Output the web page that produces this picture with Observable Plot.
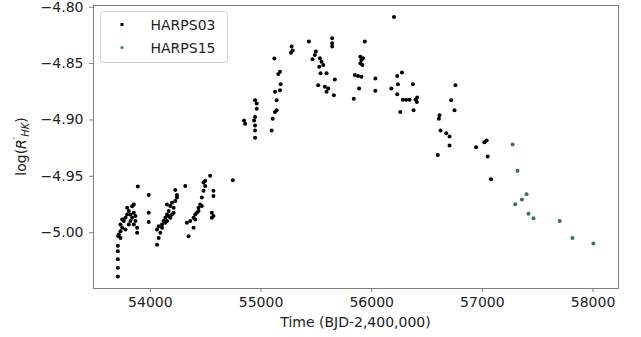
<!DOCTYPE html>
<html>
<head>
<meta charset="utf-8">
<script src="https://cdn.jsdelivr.net/npm/d3@7"></script>
<script src="https://cdn.jsdelivr.net/npm/@observablehq/plot@0.6"></script>
<style>
html,body{margin:0;padding:0;background:#fff;overflow:hidden;}
#chart{width:641px;height:337px;}
</style>
</head>
<body>
<div id="chart"></div>
<script>
// HARPS03 observations: time (BJD-2,400,000) and log(R'HK)
const t03 = [
  53706,53706,53706,53706,53706,
  53709,53730,53715,53730,53745,53730,53760,53745,53775,53790,53805,53790,53820,53835,53850,53865,53850,53880,53880,53805,53775,53820,53865,53850,53835,
  53886,53985,53985,53985,
  54060,54075,54090,54060,54075,54105,54120,54135,54150,54165,54150,54180,54195,54210,54225,54240,54240,54225,54195,54180,54150,54105,54135,54210,54165,
  54315,
  54345,54330,54360,54390,54405,54420,54405,54390,54435,54450,54465,54480,54495,54480,54495,54540,54570,54570,54555,54570,54555,54435,54465,
  54745,
  54847,54856,54946,54961,54961,54946,54937,54946,54946,54946,
  55096,55105,55126,55141,55141,55126,55171,55177,55156,55171,55120,
  55276,55285,55270,55432,
  55495,55486,55465,55532,55547,55526,55562,55538,55592,55516,55577,55607,55592,55658,
  55643,55643,55643,55667,
  55937,55898,55907,55922,55898,55916,55847,55877,55907,55886,55838,56033,56033,
  56201,56231,56273,56237,56177,56231,56282,56312,56342,56396,56411,56372,56258,56378,56408,
  56757,56718,56748,56613,56607,56622,56673,56703,56703,56597,
  56943,57018,57039,57048,57078
];
const v03 = [
  -5.0388,-5.0311,-5.0235,-5.0165,-5.0116,
  -5.0030,-5.0046,-5.0016,-4.9987,-4.9957,-4.9927,-4.9897,-4.9882,-4.9868,-4.9838,-4.9808,-4.9778,-4.9838,-4.9868,-4.9823,-4.9897,-4.9927,-5.0001,-4.9957,-4.9927,-4.9972,-4.9897,-4.9853,-4.9750,-4.9765,
  -4.9591,-4.9665,-4.9823,-4.9906,
  -5.0106,-5.0046,-5.0001,-4.9972,-4.9942,-4.9927,-4.9897,-4.9868,-4.9838,-4.9808,-4.9749,-4.9763,-4.9734,-4.9778,-4.9719,-4.9689,-4.9665,-4.9621,-4.9838,-4.9868,-4.9897,-4.9957,-4.9912,-4.9823,-4.9853,
  -4.9585,
  -5.0031,-4.9912,-4.9897,-4.9868,-4.9838,-4.9823,-4.9882,-4.9957,-4.9778,-4.9749,-4.9689,-4.9629,-4.9585,-4.9555,-4.9540,-4.9496,-4.9629,-4.9674,-4.9823,-4.9853,-4.9868,-4.9808,-4.9763,
  -4.9534,
  -4.9004,-4.9034,-4.8826,-4.8855,-4.8900,-4.8974,-4.9004,-4.9049,-4.9093,-4.9159,
  -4.9093,-4.8989,-4.8930,-4.8915,-4.8826,-4.8751,-4.8736,-4.8683,-4.8593,-4.8573,-4.8454,
  -4.8349,-4.8385,-4.8403,-4.8305,
  -4.8394,-4.8424,-4.8462,-4.8453,-4.8483,-4.8528,-4.8513,-4.8587,-4.8587,-4.8692,-4.8706,-4.8721,-4.8751,-4.8781,
  -4.8275,-4.8320,-4.8349,-4.8641,
  -4.8305,-4.8439,-4.8468,-4.8453,-4.8498,-4.8513,-4.8602,-4.8611,-4.8617,-4.8721,-4.8811,-4.8632,-4.8742,
  -4.8087,-4.8611,-4.8579,-4.8683,-4.8721,-4.8772,-4.8820,-4.8820,-4.8820,-4.8820,-4.8802,-4.8683,-4.8930,-4.8915,-4.8840,
  -4.8692,-4.8826,-4.8915,-4.8959,-4.8989,-4.9093,-4.9117,-4.9147,-4.9227,-4.9311,
  -4.9242,-4.9198,-4.9183,-4.9325,-4.9525
];
// HARPS15 observations
const t15 = [57273,57318,57399,57357,57297,57417,57462,57699,57814,58003];
const v15 = [-4.9218,-4.9450,-4.9659,-4.9706,-4.9748,-4.9831,-4.9873,-4.9897,-5.0046,-5.0096];

const xTicks = [54000,55000,56000,57000,58000];
const yTicks = [-5.00,-4.95,-4.90,-4.85,-4.80];
const seriesNames = ["HARPS03","HARPS15"];
const seriesColors = ["#000000","#3b6f5e"];
const xLabel = "Time (BJD-2,400,000)";

const d03 = t03.map((t,i)=>({t, v:v03[i]}));
const d15 = t15.map((t,i)=>({t, v:v15[i]}));

const W = 641, H = 337, ML = 93, MR = 23, MT = 5, MB = 49;
const gray = "#808080";
const fmtY = d => d.toFixed(2).replace("-","\u2212");

const plot = Plot.plot({
  width: W, height: H,
  marginLeft: ML, marginRight: MR, marginTop: MT, marginBottom: MB,
  style: {fontFamily: "DejaVu Sans", fontSize: "14px", background: "white", color: "#222"},
  x: {domain: [53486, 58230]},
  y: {domain: [-5.0495, -4.7985]},
  marks: [
    Plot.axisX({ticks: xTicks, tickFormat: d => String(d), tickSize: 4, tickPadding: 5, stroke: gray, fill: "#222", label: null, fontSize: 14}),
    Plot.axisY({ticks: yTicks, tickFormat: fmtY, tickSize: 4, tickPadding: 6, stroke: gray, fill: "#222", label: null, fontSize: 14}),
    Plot.dot(d03, {x: "t", y: "v", r: 2, fill: seriesColors[0], stroke: null}),
    Plot.dot(d15, {x: "t", y: "v", r: 2, fill: seriesColors[1], stroke: null}),
    Plot.frame({stroke: gray, strokeWidth: 1})
  ]
});
document.getElementById("chart").appendChild(plot);

const svg = d3.select(plot);
// x-axis title
svg.append("text")
  .attr("x", ML + (W - ML - MR) / 2).attr("y", 327)
  .attr("text-anchor", "middle")
  .attr("font-family", "DejaVu Sans").attr("font-size", 14).attr("fill", "#222")
  .text(xLabel);
// y-axis title: log(R'_HK)
const yl = svg.append("text")
  .attr("transform", `translate(26,${MT + (H - MT - MB) / 2}) rotate(-90)`)
  .attr("text-anchor", "middle")
  .attr("font-family", "DejaVu Sans").attr("font-size", 14).attr("fill", "#222");
yl.append("tspan").text("log(");
yl.append("tspan").attr("font-style", "italic").text("R");
yl.append("tspan").attr("font-size", 10).attr("dy", -5).text("\u2032");
yl.append("tspan").attr("font-size", 10).attr("font-style", "italic").attr("dy", 8).text("HK");
yl.append("tspan").attr("dy", -3).text(")");

// legend
const lg = svg.append("g");
lg.append("rect").attr("x", 100.5).attr("y", 11.5).attr("width", 127).attr("height", 51)
  .attr("rx", 3).attr("fill", "white").attr("fill-opacity", 0.85).attr("stroke", "#d0d0d0");
seriesNames.forEach((name, i) => {
  const cy = 24.5 + i * 23;
  if (i === 0) {
    lg.append("rect").attr("x", 120.5).attr("y", cy - 1.5).attr("width", 3).attr("height", 3).attr("fill", seriesColors[i]);
  } else {
    lg.append("circle").attr("cx", 122).attr("cy", cy).attr("r", 1.6).attr("fill", "#2e8b57");
  }
  lg.append("text").attr("x", 150.5).attr("y", cy + 5.3)
    .attr("text-anchor", "start")
    .attr("font-family", "DejaVu Sans").attr("font-size", 14).attr("fill", "#222")
    .text(name);
});
</script>
</body>
</html>
